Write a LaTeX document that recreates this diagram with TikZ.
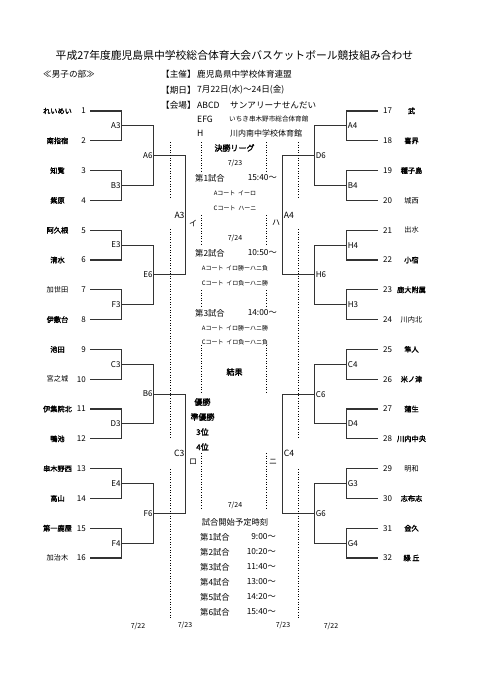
\documentclass[tikz,border=0pt]{standalone}
\usepackage{fontspec}
\setmainfont{Noto Sans CJK JP}[AutoFakeBold=2]
\usepackage{tikz}
\usetikzlibrary{positioning,calc}

\begin{document}
\begin{tikzpicture}[
  x=1pt,y=-1pt,
  line/.style={draw=black!80, line width=1.1pt},
  dots/.style={line width=1pt, dash pattern=on 1pt off 1.6pt},
  tmb/.style={font=\fontsize{7.2}{8}\selectfont\bfseries, inner sep=0pt},
  tmn/.style={font=\fontsize{7.2}{8}\selectfont, inner sep=0pt},
  num/.style={font=\fontsize{8}{9}\selectfont, inner sep=0pt},
  rnd/.style={font=\fontsize{8}{9}\selectfont, inner sep=1pt},
  grp/.style={font=\fontsize{8}{9}\selectfont, inner sep=0pt},
  head/.style={font=\fontsize{8.6}{10}\selectfont, anchor=west, inner sep=0pt},
  game/.style={font=\fontsize{8.3}{9}\selectfont, inner sep=0pt},
  court/.style={font=\fontsize{6}{7}\selectfont, inner sep=0pt},
  day/.style={font=\fontsize{7}{8}\selectfont, inner sep=0pt}
]
\useasboundingbox (0,0) rectangle (481,680);

\node[font=\fontsize{10.8}{12}\selectfont, inner sep=0pt] (title) at (234.5,55) {平成27年度鹿児島県中学校総合体育大会バスケットボール競技組み合わせ};
\node[head] (division) at (43,74) {≪男子の部≫};
\node[head] (hostkey) at (161,74) {【主催】};
\node[head] (host) at (197,74) {鹿児島県中学校体育連盟};
\node[head] (datekey) at (161,90) {【期日】};
\node[head] (dates) at (197,90) {7月22日(水)〜24日(金)};
\node[head] (venuekey) at (161,105) {【会場】};
\node[head] (courtA) at (197,105) {ABCD};
\node[head] (venueA) at (230,105) {サンアリーナせんだい};
\node[head] (courtE) at (197,119) {EFG};
\node[head, font=\fontsize{6.6}{8}\selectfont] (venueE) at (229,119) {いちき串木野市総合体育館};
\node[head] (courtH) at (197,133) {H};
\node[head, font=\fontsize{8}{9}\selectfont] (venueH) at (230,133) {川内南中学校体育館};

\foreach \i/\nm/\st in {1/れいめい/tmb, 2/南指宿/tmb, 3/知覧/tmb, 4/紫原/tmb, 5/阿久根/tmb, 6/清水/tmb, 7/加世田/tmn, 8/伊敷台/tmb, 9/池田/tmb, 10/宮之城/tmn, 11/伊集院北/tmb, 12/鴨池/tmb, 13/串木野西/tmb, 14/高山/tmb, 15/第一鹿屋/tmb, 16/加治木/tmn}{
  \node[\st] (ln\i) at (57.5,{111+29.8*(\i-1)}) {\nm};
  \node[num, anchor=east] (lnum\i) at (86,{111+29.8*(\i-1)}) {\i};
  \coordinate (lt\i) at (90,{111+29.8*(\i-1)});
}
\foreach \i/\nm/\st in {17/武/tmb, 18/喜界/tmb, 19/種子島/tmb, 20/城西/tmn, 21/出水/tmn, 22/小宿/tmb, 23/鹿大附属/tmb, 24/川内北/tmn, 25/隼人/tmb, 26/米ノ津/tmb, 27/蒲生/tmb, 28/川内中央/tmb, 29/明和/tmn, 30/志布志/tmb, 31/金久/tmb, 32/緑\ 丘/tmb}{
  \node[\st] (rn\i) at (411.5,{111+29.8*(\i-17)}) {\nm};
  \node[num, anchor=west] (rnum\i) at (383,{111+29.8*(\i-17)}) {\i};
  \coordinate (rt\i) at (378,{111+29.8*(\i-17)});
}

\foreach \k/\lt/\rt in {1/A3/A4, 2/B3/B4, 3/E3/H4, 4/F3/H3, 5/C3/C4, 6/D3/D4, 7/E4/G3, 8/F4/G4}{
  \pgfmathtruncatemacro\a{2*\k-1}
  \pgfmathtruncatemacro\b{2*\k}
  \pgfmathtruncatemacro\c{2*\k+15}
  \pgfmathtruncatemacro\d{2*\k+16}
  \coordinate (l1-\k) at (121.7,{111+29.8*(2*\k-1.5)});
  \coordinate (r1-\k) at (346.7,{111+29.8*(2*\k-1.5)});
  \draw[line] (lt\a) -| (l1-\k) |- (lt\b);
  \draw[line] (rt\c) -| (r1-\k) |- (rt\d);
  \node[rnd, anchor=east] (l1lab\k) at (l1-\k) {\lt};
  \node[rnd, anchor=west] (r1lab\k) at (r1-\k) {\rt};
}
\foreach \k/\lt/\rt in {1/A6/D6, 2/E6/H6, 3/B6/C6, 4/F6/G6}{
  \pgfmathtruncatemacro\a{2*\k-1}
  \pgfmathtruncatemacro\b{2*\k}
  \coordinate (l2-\k) at (153.7,{111+29.8*(4*\k-2.5)});
  \coordinate (r2-\k) at (314.7,{111+29.8*(4*\k-2.5)});
  \draw[line] (l1-\a) -| (l2-\k) |- (l1-\b);
  \draw[line] (r1-\a) -| (r2-\k) |- (r1-\b);
  \node[rnd, anchor=east] (l2lab\k) at (l2-\k) {\lt};
  \node[rnd, anchor=west] (r2lab\k) at (r2-\k) {\rt};
}
\foreach \k/\lt/\rt in {1/A3/A4, 2/C3/C4}{
  \pgfmathtruncatemacro\a{2*\k-1}
  \pgfmathtruncatemacro\b{2*\k}
  \coordinate (l3-\k) at (185.7,{111+29.8*(8*\k-4.5)});
  \coordinate (r3-\k) at (282.7,{111+29.8*(8*\k-4.5)});
  \draw[line] (l2-\a) -| (l3-\k) |- (l2-\b);
  \draw[line] (r2-\a) -| (r3-\k) |- (r2-\b);
  \node[rnd, anchor=east, font=\fontsize{8.6}{9}\selectfont] (l3lab\k) at (l3-\k) {\lt};
  \node[rnd, anchor=west, font=\fontsize{8.6}{9}\selectfont] (r3lab\k) at (r3-\k) {\rt};
}

\foreach \x in {170,298.5}{
  \draw[dots] (\x,142) -- (\x,198);
  \draw[dots] (\x,229) -- (\x,438);
  \draw[dots] (\x,469) -- (\x,618);
}
\foreach \x in {201.7,266.7}{
  \draw[dots] (\x,142) -- (\x,171);
  \draw[dots] (\x,215) -- (\x,244);
  \draw[dots] (\x,290) -- (\x,306);
  \draw[dots] (\x,345) -- (\x,393);
  \draw[dots] (\x,453) -- (\x,508);
}

\node[grp] (gi) at (193,223) {イ};
\node[grp] (gha) at (276,223) {ハ};
\node[grp] (gro) at (193,462) {ロ};
\node[grp] (gni) at (273,462) {ニ};

\node[game, font=\fontsize{8}{9}\selectfont\bfseries] (league) at (234.5,148) {決勝リーグ};
\node[day] (day23) at (235,163) {7/23};
\node[game, anchor=west] (g1) at (195,178) {第1試合};
\node[game, anchor=east] (t1) at (277,178) {15:40〜};
\node[court] (g1a) at (235,193) {Aコート\ \ イーロ};
\node[court] (g1c) at (235,208) {Cコート\ \ ハーニ};
\node[day] (day24) at (235,238) {7/24};
\node[game, anchor=west] (g2) at (195,253) {第2試合};
\node[game, anchor=east] (t2) at (277,253) {10:50〜};
\node[court] (g2a) at (235,268) {Aコート\ \ イロ勝ーハニ負};
\node[court] (g2c) at (235,283) {Cコート\ \ イロ負ーハニ勝};
\node[game, anchor=west] (g3) at (195,313) {第3試合};
\node[game, anchor=east] (t3) at (277,313) {14:00〜};
\node[court] (g3a) at (235,328) {Aコート\ \ イロ勝ーハニ勝};
\node[court] (g3c) at (235,342) {Cコート\ \ イロ負ーハニ負};

\node[game, font=\fontsize{8}{9}\selectfont\bfseries] (result) at (234.5,372) {結果};
\node[game, font=\fontsize{8}{9}\selectfont\bfseries] (first) at (202.5,402) {優勝};
\node[game, font=\fontsize{8}{9}\selectfont\bfseries] (second) at (202.5,417) {準優勝};
\node[game, font=\fontsize{8}{9}\selectfont\bfseries] (third) at (202.5,432) {3位};
\node[game, font=\fontsize{8}{9}\selectfont\bfseries] (fourth) at (202.5,447) {4位};

\node[day] (day24b) at (235,505) {7/24};
\node[game] (start) at (235,522) {試合開始予定時刻};
\foreach \n/\t in {1/9:00〜, 2/10:20〜, 3/11:40〜, 4/13:00〜, 5/14:20〜, 6/15:40〜}{
  \node[game, anchor=west] (s\n) at (200,{522+15*\n}) {第\n 試合};
  \node[game, anchor=east] (st\n) at (276,{522+15*\n}) {\t};
}

\node[day] (d22l) at (138,626) {7/22};
\node[day] (d23l) at (185,625) {7/23};
\node[day] (d23r) at (283,625) {7/23};
\node[day] (d22r) at (331,626) {7/22};
\end{tikzpicture}
\end{document}
